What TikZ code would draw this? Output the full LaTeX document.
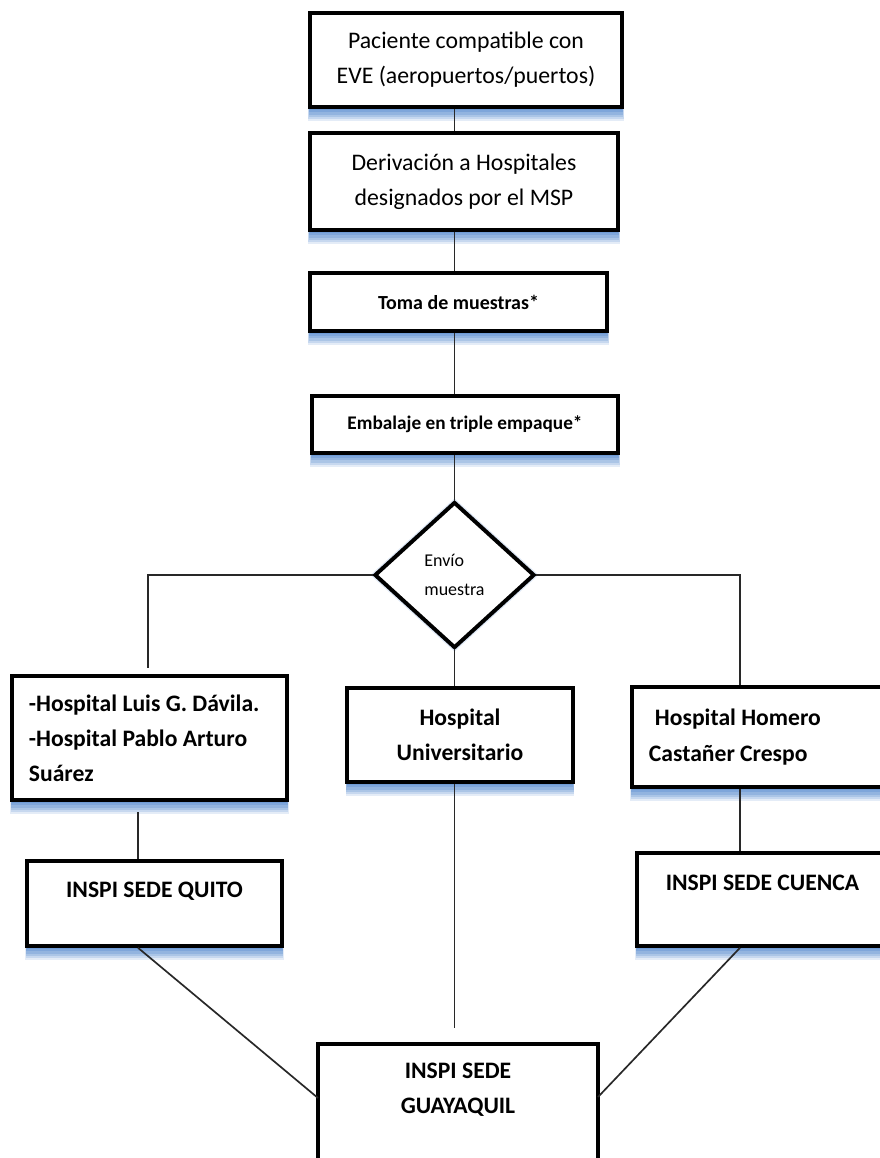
\documentclass[tikz,border=0pt]{standalone}
\usepackage{fontspec}
\setmainfont{Carlito}
\usepackage{tikz}
\usetikzlibrary{shapes.geometric}
\usetikzlibrary{shadows}
\usepackage{xcolor}

\definecolor{sombra}{RGB}{84,136,205}
\definecolor{linea}{RGB}{40,40,40}

\tikzset{
  sombra suave/.style={
    drop shadow={shadow xshift=0pt, shadow yshift=-0.33cm, shadow scale=1.012, fill=sombra, opacity=0.16},
    drop shadow={shadow xshift=0pt, shadow yshift=-0.28cm, shadow scale=1.010, fill=sombra, opacity=0.2},
    drop shadow={shadow xshift=0pt, shadow yshift=-0.23cm, shadow scale=1.008, fill=sombra, opacity=0.24},
    drop shadow={shadow xshift=0pt, shadow yshift=-0.18cm, shadow scale=1.006, fill=sombra, opacity=0.28},
    drop shadow={shadow xshift=0pt, shadow yshift=-0.13cm, shadow scale=1.004, fill=sombra, opacity=0.32},
    drop shadow={shadow xshift=0pt, shadow yshift=-0.08cm, fill=sombra, opacity=0.36}},
  caja/.style={draw=black, line width=2.5pt, fill=white, inner sep=0pt, sombra suave},
  rombo/.style={diamond, draw=black, line width=2.8pt, fill=white, inner sep=0pt,
    drop shadow={shadow xshift=0pt, shadow yshift=0pt, shadow scale=1.06, fill=sombra!40, opacity=0.5}},
  conector/.style={draw=linea, line width=1.2pt},
  txtreg/.style={font=\fontsize{16.9}{25}\selectfont},
  txtpaso/.style={font=\fontsize{14.2}{20}\bfseries\selectfont},
  txtrombo/.style={font=\fontsize{12.8}{21}\selectfont},
  txthosp/.style={font=\fontsize{16.8}{25}\bfseries\selectfont}
}

\begin{document}
\begin{tikzpicture}[x=0.025cm, y=-0.025cm]
\useasboundingbox (0,0) rectangle (880,1158);

% flujo principal
\node[caja, txtreg, minimum width=7.8cm, minimum height=2.35cm, align=center] (pac) at (466,60) {Paciente compatible con\\EVE (aeropuertos/puertos)};
\node[caja, txtreg, minimum width=7.7cm, minimum height=2.425cm, align=center] (der) at (464,181.5) {Derivación a Hospitales\\designados por el MSP};
\node[caja, txtpaso, minimum width=7.425cm, minimum height=1.45cm] (tom) at (458.5,302) {Toma de muestras*};
\node[caja, txtpaso, font=\fontsize{13.7}{20}\bfseries\selectfont, minimum width=7.65cm, minimum height=1.425cm] (emb) at (465,424.5) {Embalaje en triple empaque*};

\node[rombo, txtrombo, minimum width=4cm, minimum height=3.65cm, align=left] (env) at (454.5,575) {Envío\\muestra};

% hospitales
\node[caja, txthosp, minimum width=6.875cm, minimum height=3.1cm, text width=6.025cm, inner xsep=0.425cm, align=flush left] (hld) at (149.5,738) {-Hospital Luis G. Dávila.\\-Hospital Pablo Arturo\\Suárez};
\node[caja, txthosp, minimum width=5.65cm, minimum height=2.35cm, align=center] (hun) at (460,735) {Hospital\\Universitario};
\node[caja, txthosp, minimum width=6.4cm, minimum height=2.5cm, text width=5.55cm, inner xsep=0.425cm, align=flush left] (hhc) at (760,737) {\hspace*{0.15cm}Hospital Homero\\Castañer Crespo};

% sedes INSPI
\node[caja, txthosp, minimum width=6.375cm, text height=0.9cm, text depth=1.225cm] (qto) at (154.5,903.5) {INSPI SEDE QUITO};
\node[caja, txthosp, minimum width=6.275cm, text height=0.925cm, text depth=1.4cm] (cue) at (762.5,899.5) {INSPI SEDE CUENCA};
\node[caja, txthosp, minimum width=7cm, text width=7cm, align=flush center, text height=0.85cm, text depth=2.55cm] (gye) at (458,1112) {INSPI SEDE\\GUAYAQUIL};

\coordinate (lend) at (148,668);
\coordinate (rcol) at (740,575);
\coordinate (mend) at (454.5,1028);
\coordinate (qcol) at (138,812);
\coordinate (gyeL) at (318,1098);
\coordinate (gyeR) at (598,1097);

\draw[conector] (pac.south -| env) -- (der.north -| env);
\draw[conector] (der.south -| env) -- (tom.north -| env);
\draw[conector] (tom.south -| env) -- (emb.north -| env);
\draw[conector] (emb.south -| env) -- (env.north);

\draw[conector] (env.west) -| (lend);
\draw[conector] (env.east) -| (hhc.north -| rcol);
\draw[conector] (env.south) -- (env.south |- hun.north);

\draw[conector] (qcol) -- (qcol |- qto.north);
\draw[conector] (hun.south -| mend) -- (mend);
\draw[conector] (hhc.south -| rcol) -- (cue.north -| rcol);

\draw[conector] (qto.south -| qcol) -- (gyeL);
\draw[conector] (cue.south -| rcol) -- (gyeR);

\end{tikzpicture}
\end{document}
